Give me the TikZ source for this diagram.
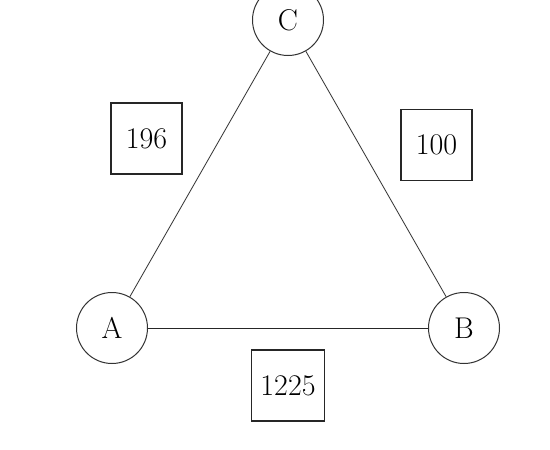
\documentclass[tikz,border=0pt]{standalone}
\begin{document}
\begin{tikzpicture}[x=1pt,y=-1pt,
  every node/.style={font=\fontsize{30}{35}\selectfont},
  vertex/.style={circle,draw=black!80,line width=1pt,minimum size=71pt,inner sep=0pt},
  weight/.style={rectangle,draw=black!85,line width=1.1pt,minimum width=71pt,minimum height=71pt,inner xsep=9pt},
  edge/.style={draw=black!85,line width=0.8pt}]
\useasboundingbox (0,0) rectangle (550,450);
\node[vertex] (C) at (288,20) {C};
\node[vertex] (A) at (112,328) {A};
\node[vertex] (B) at (464,328) {B};
\node[weight] (w196) at (146.5,138.5) {196};
\node[weight] (w100) at (436.5,145) {100};
\node[weight] (w1225) at (288,385.5) {1225};
\draw[edge] (C) -- (A);
\draw[edge] (C) -- (B);
\draw[edge] (A) -- (B);
\end{tikzpicture}
\end{document}
